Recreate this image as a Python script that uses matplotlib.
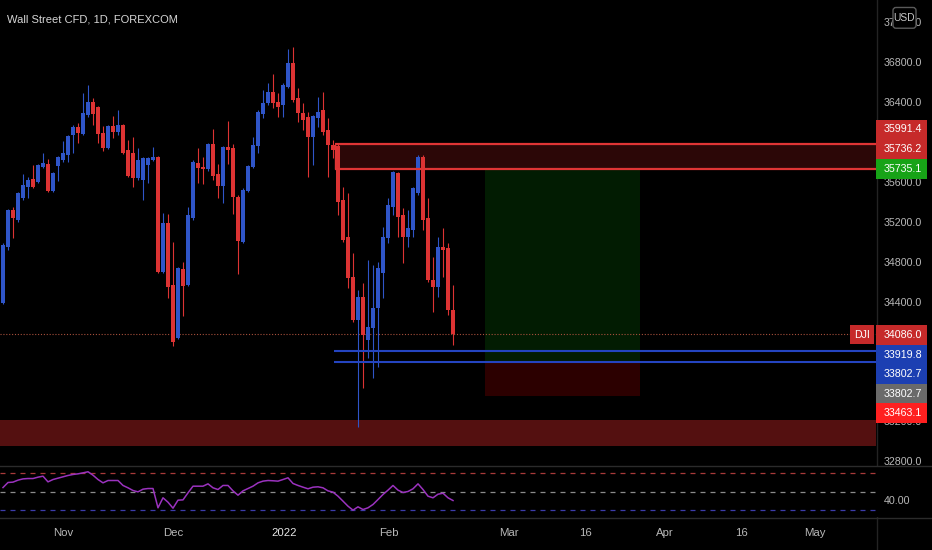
import numpy as np
import matplotlib
matplotlib.use('Agg')
import matplotlib.pyplot as plt
from matplotlib.patches import Rectangle, FancyBboxPatch
from matplotlib.lines import Line2D
import matplotlib.transforms as mtrans

plt.rcParams['font.family'] = ['Liberation Sans', 'DejaVu Sans']

# daily candles, Wall Street CFD
opens = [34400, 34960, 35330, 35230, 35450, 35560, 35640, 35610, 35760, 35790,
         35520, 35770, 35830, 35880, 36080, 36160, 36090, 36280, 36410, 36360,
         36100, 35950, 36170, 36110, 36180, 35930, 35900, 35650, 35630, 35780,
         35830, 35860, 34710, 35200, 34580, 34050, 34740, 34580, 35250, 35800,
         35760, 35740, 35990, 35690, 35570, 35960, 35950, 35460, 35010, 35520,
         35760, 35970, 36290, 36400, 36510, 36410, 36380, 36560, 36800, 36450,
         36300, 36260, 36060, 36250, 36330, 36130, 35980, 35970, 35430, 35060,
         34660, 34230, 34460, 34030, 34150, 34350, 34700, 35050, 35360, 35700,
         35280, 35060, 35130, 35500, 35860, 35250, 34630, 34560, 34960, 34950,
         34330]
highs = [35000, 35340, 35360, 35510, 35690, 35660, 35780, 35790, 35900, 35840,
         35710, 35870, 36020, 36080, 36180, 36200, 36500, 36580, 36450, 36370,
         36170, 36180, 36270, 36330, 36190, 36030, 36060, 35950, 35860, 35860,
         35960, 35870, 35300, 35290, 35010, 34760, 34810, 35360, 35830, 35950,
         35860, 36000, 36140, 35790, 35970, 36220, 35990, 35480, 35550, 35780,
         36060, 36330, 36530, 36600, 36690, 36500, 36600, 36940, 36960, 36550,
         36400, 36310, 36280, 36460, 36510, 36250, 36030, 35990, 35560, 35500,
         34900, 34530, 34600, 34830, 34780, 34810, 35160, 35450, 35720, 35710,
         35350, 35330, 35560, 35880, 35880, 35450, 34860, 35060, 35150, 35000,
         34580]
lows = [34390, 34930, 35050, 35210, 35430, 35450, 35550, 35600, 35750, 35510,
        35510, 35620, 35810, 35810, 35900, 36000, 36080, 36260, 36180, 36000,
        35920, 35940, 36050, 36080, 35890, 35660, 35560, 35630, 35430, 35600,
        35820, 34700, 34700, 34450, 33970, 34040, 34270, 34570, 35230, 35600,
        35590, 35720, 35630, 35450, 35400, 35790, 35290, 34690, 35000, 35510,
        35750, 35900, 36250, 36380, 36350, 36260, 36260, 36550, 36410, 36210,
        36130, 35660, 35780, 36160, 36080, 35660, 35850, 35280, 35010, 34550,
        34210, 33150, 33550, 33850, 33650, 33760, 34450, 35000, 35280, 35060,
        34800, 34960, 35060, 35480, 35130, 34610, 34310, 34460, 34660, 34280,
        33980]
closes = [34980, 35330, 35250, 35500, 35580, 35630, 35560, 35780, 35800, 35520,
          35700, 35860, 35900, 36070, 36160, 36100, 36300, 36410, 36290, 36090,
          35950, 36170, 36110, 36180, 35900, 35670, 35650, 35830, 35850, 35850,
          35860, 34710, 35200, 34560, 34010, 34750, 34570, 35280, 35810, 35750,
          35740, 35990, 35670, 35570, 35960, 35930, 35460, 35020, 35530, 35770,
          35980, 36310, 36400, 36510, 36400, 36360, 36580, 36800, 36430, 36300,
          36230, 36060, 36270, 36310, 36110, 35980, 35930, 35410, 35030, 34650,
          34230, 34460, 34080, 34160, 34350, 34750, 35060, 35380, 35710, 35260,
          35060, 35150, 35550, 35860, 35230, 34630, 34560, 34960, 34930, 34330,
          34086]
rsi = [54.4, 60, 60.4, 62.6, 64, 64.4, 64.4, 65.9, 67, 60.7,
       63.3, 64.8, 66.3, 67.8, 68.9, 69.6, 70.7, 71.9, 68.1, 63.3,
       59.6, 62.2, 62.2, 62.2, 56.7, 54.1, 51.1, 49.6, 52.6, 53.3,
       53.3, 31.9, 43, 38.1, 31.5, 40.4, 40.7, 48.5, 55.9, 55.9,
       55.9, 58.5, 54.1, 52.2, 56.7, 56.7, 50.7, 45.9, 50.7, 53.3,
       55.9, 59.6, 61.5, 62.2, 61.9, 61.5, 63.3, 65.2, 58.9, 56.7,
       54.8, 53, 54.8, 55.2, 54.1, 50.7, 49.3, 44.8, 39.3, 33.7,
       29.3, 33, 30, 31.9, 35.6, 41.1, 46.7, 51.5, 56.7, 51.5,
       48.9, 50, 53, 58.5, 52.2, 44.8, 43, 47, 48.1, 43,
       40]

# drawn levels
resist_zone = (35736.2, 35991.4)
support_zone = (32967, 33225)
blue_levels = [33919.8, 33802.7]
entry, target, stop = 33802.7, 35735.1, 33463.1
last_price = 34086.0

# scale ticks not hidden behind the tags
price_ticks = [37200, 36800, 36400, 35600, 35200, 34800, 34400, 33200, 32800]
date_labels = ['Nov', 'Dec', '2022', 'Feb', 'Mar', '16', 'Apr', '16', 'May']
date_pos = [12, 34, 56.2, 77.2, 101.2, 116.4, 132.4, 147.6, 162.4]

axis_labels = ['35991.4', '35736.2', '35735.1', '34086.0', '33919.8', '33802.7', '33802.7', '33463.1']
axis_colors = ['#c62a2a', '#c62a2a', '#17a317', '#c62a2a', '#1c3fb2', '#1c3fb2', '#6a6a6a', '#ff2020']
axis_tops = [119.5, 139.4, 159.3, 325, 344.5, 364, 383.6, 403.2]

UP = '#2f55c8'
DOWN = '#dc3333'
W, H = 932, 550
XL = (-0.6, 174.6)
FS = 7.7

fig = plt.figure(figsize=(W / 100, H / 100), dpi=100, facecolor='black')

def fy(py):
    return 1 - py / H

ax = fig.add_axes([0, fy(465), 876 / W, 465 / H])
ax.set_facecolor('black')
ax.set_xlim(*XL)
ax.set_ylim(32773, 37435)
ax.axis('off')

x = np.arange(len(closes))
o = np.array(opens, float)
c = np.array(closes, float)
cols = np.where(c >= o, UP, DOWN)

# zones and drawings
ax.axhspan(support_zone[0], support_zone[1], color='#541010', lw=0, zorder=1)
ax.add_patch(Rectangle((66.4, resist_zone[0]), 120, resist_zone[1] - resist_zone[0],
                       fc='#2c0707', ec='none', zorder=1))
ax.hlines(resist_zone, 66.4, XL[1], color='#e03535', lw=1.6, zorder=6)
ax.vlines(66.4, resist_zone[0], resist_zone[1], color='#e03535', lw=1, zorder=6)
ax.add_patch(Rectangle((96.4, entry), 31, target - entry, fc='#021c02', ec='none', zorder=1))
ax.add_patch(Rectangle((96.4, stop), 31, entry - stop, fc='#2c0000', ec='none', zorder=1))
ax.axhline(last_price, color='#a8503c', lw=0.8, ls=(0, (1, 1.6)), zorder=2)

ax.vlines(x, lows, highs, colors=cols, lw=0.8, zorder=3)
ax.bar(x, np.maximum(np.abs(c - o), 12), bottom=np.minimum(o, c), width=0.62,
       color=cols, lw=0, zorder=4)
ax.hlines(blue_levels, 66.2, XL[1], color='#2444c0', lw=1.5, zorder=6)

# price scale
axp = fig.add_axes([876 / W, fy(465), 56 / W, 465 / H])
axp.set_facecolor('black')
axp.set_xlim(0, 56)
axp.set_ylim(ax.get_ylim())
axp.axis('off')
for p in price_ticks:
    axp.text(8, p, f'{p:.1f}', color='#b8b8b8', fontsize=FS, va='center', ha='left')
axp.add_patch(FancyBboxPatch((17, 37152), 23, 208, boxstyle='round,pad=0,rounding_size=3',
                             mutation_aspect=10, fc='black', ec='#5a5a5a', lw=1, zorder=5))
axp.text(28.5, 37256, 'USD', color='#c8c8c8', fontsize=7.4, ha='center', va='center', zorder=6)

for lab, col, top in zip(axis_labels, axis_colors, axis_tops):
    fig.add_artist(Rectangle((876 / W, fy(top + 19.5)), 51 / W, 19.5 / H, transform=fig.transFigure,
                             fc=col, ec='none', zorder=7))
    fig.text(884 / W, fy(top + 10), lab, color='white', fontsize=FS, va='center', ha='left', zorder=8)
fig.add_artist(Rectangle((850 / W, fy(343.5)), 24 / W, 18.5 / H, transform=fig.transFigure,
                         fc='#c62a2a', ec='none', zorder=7))
fig.text(862 / W, fy(334.5), 'DJI', color='white', fontsize=FS, va='center', ha='center', zorder=8)

# RSI pane
axr = fig.add_axes([0, fy(517), 876 / W, 51 / H])
axr.set_facecolor('black')
axr.set_xlim(*XL)
axr.set_ylim(21.7, 78.3)
axr.axis('off')
axr.axhline(70, color='#a83a3a', lw=0.9, ls=(0, (4, 4)))
axr.axhline(50, color='#8c8c8c', lw=0.9, ls=(0, (4, 4)))
axr.axhline(30, color='#3c3caa', lw=0.9, ls=(0, (4, 4)))
axr.plot(x, rsi, color='#9a32be', lw=1.1)
# cover the scale strip of the RSI pane so the price scale is cut at the border
fig.add_artist(Rectangle((876 / W, fy(517)), 56 / W, 51 / H, transform=fig.transFigure,
                         fc='black', ec='none', zorder=7))
fig.text(884 / W, fy(500.7), '40.00', color='#b8b8b8', fontsize=FS, va='center', ha='left', zorder=8)

# date axis
tr = mtrans.blended_transform_factory(axr.transData, axr.transAxes)
for lab, pos in zip(date_labels, date_pos):
    axr.text(pos, -0.32, lab, transform=tr, ha='center', va='center', fontsize=8.2,
             color='#e6e6e6' if lab == '2022' else '#b8b8b8', clip_on=False)

# pane borders
for yy in (466, 517.5):
    fig.add_artist(Line2D([0, 1], [fy(yy), fy(yy)], color='#2b2b2b', lw=1, zorder=9))
fig.add_artist(Line2D([876.5 / W, 876.5 / W], [0, 1], color='#232323', lw=1, zorder=6))

fig.text(7 / W, fy(20), 'Wall Street CFD, 1D, FOREXCOM', color='#d6d6d6', fontsize=8,
         va='center', ha='left')

fig.savefig('out.png', dpi=100, facecolor='black')
